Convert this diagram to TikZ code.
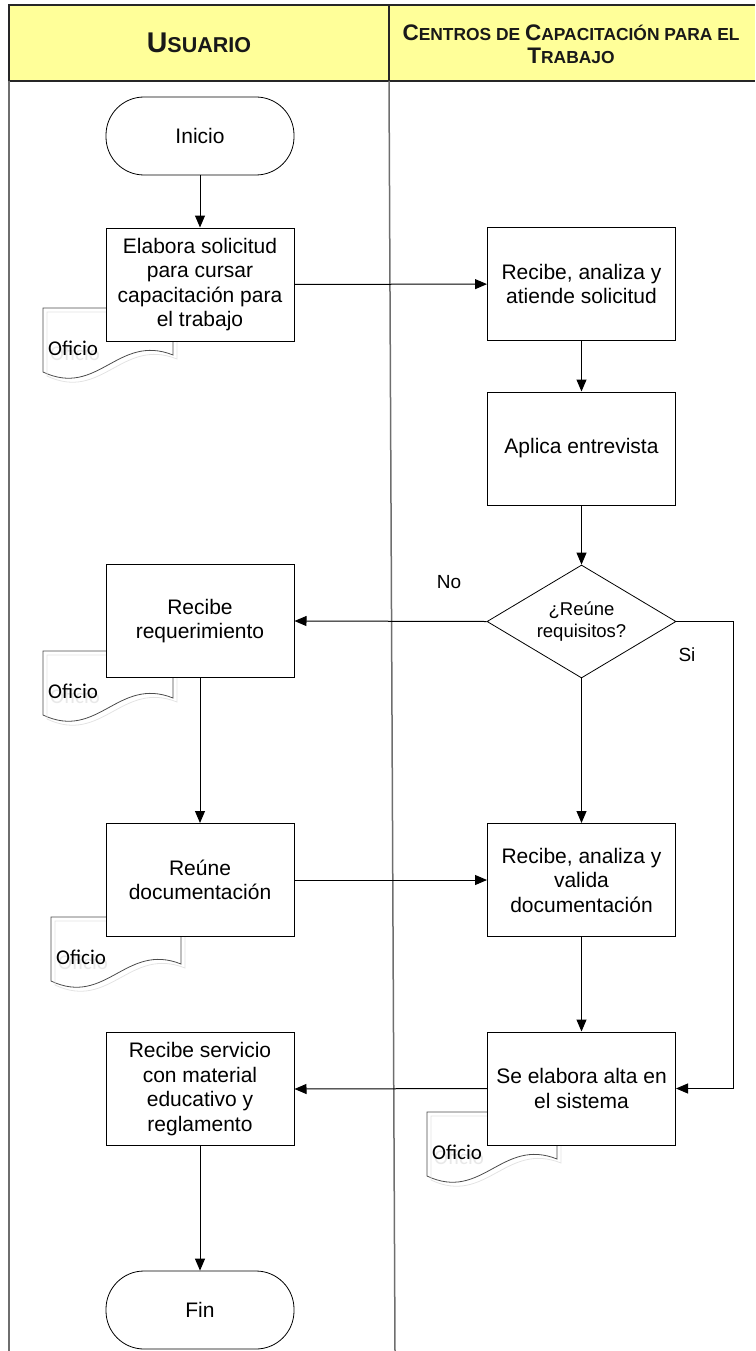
\documentclass[tikz,border=0pt]{standalone}
\usepackage{fontspec}
\setmainfont{Liberation Sans}
\newfontfamily\calib{Carlito}
\usetikzlibrary{shapes.geometric,arrows.meta}
\definecolor{hdr}{HTML}{FFFF99}
\definecolor{lane}{HTML}{6E6E6E}
\newcommand\BigL[1]{{\fontsize{22.5}{23}\selectfont #1}}
\newcommand\SmL[1]{{\fontsize{17.4}{23}\selectfont #1}}
\tikzset{
  box/.style={draw, line width=1pt, fill=white, minimum width=188pt, minimum height=113pt,
    inner sep=0pt, align=center, font=\fontsize{21}{24.5}\selectfont},
  term/.style={draw, line width=0.8pt, rounded corners=38pt, minimum width=188pt,
    minimum height=78pt, font=\fontsize{21}{24.5}\selectfont},
  dec/.style={diamond, draw, line width=0.8pt, fill=white, minimum width=189pt,
    minimum height=113pt, inner sep=0pt},
  dectext/.style={align=center, inner sep=0pt, font=\fontsize{18.5}{22}\selectfont},
  arr/.style={line width=1pt, -{Triangle[length=12pt,width=10pt]}},
  lbl/.style={font=\fontsize{19}{20}\selectfont, inner sep=0pt},
  oficio/.pic={
    \path[draw=gray!60!black, line width=0.8pt, fill=white]
      (0,0) -- (130,0) -- (130,47) .. controls (75,25) and (55,90) .. (0,64) -- cycle;
    \path[draw=gray!22, line width=0.8pt]
      (4,4) -- (134,4) -- (134,51) .. controls (79,29) and (59,94) .. (4,68) -- cycle;
    \node[anchor=west, text=gray!18, font=\calib\fontsize{21}{21}\selectfont, inner sep=0pt] (-s) at (7,45) {Oficio};
    \node[anchor=west, font=\calib\fontsize{21}{21}\selectfont, inner sep=0pt] (-t) at (5,40) {Oficio};
  }
}
\begin{document}
\begin{tikzpicture}[x=1pt,y=-1pt]
\useasboundingbox (0,0) rectangle (755,1351);
% header
\fill[hdr] (9,5) rectangle (755,81);
\draw[line width=1.5pt, black!85] (755,5) -- (9,5) -- (9,81) -- (755,81);
\draw[line width=1.5pt, black!85] (389,5) -- (389,81);
\draw[lane, line width=1.5pt] (9,81) -- (9,1351);
\draw[lane, line width=1.5pt] (389,81) -- (395,1351);
\node[font=\bfseries, text=black!90] (h1) at (199,43) {{\fontsize{28.5}{28}\selectfont U}{\fontsize{21.5}{28}\selectfont SUARIO}};
\node[font=\bfseries\fontsize{17.4}{23}\selectfont, text=black!90, align=center] (h2) at (571,44)
  {\BigL{C}\SmL{ENTROS DE }\BigL{C}\SmL{APACITACIÓN PARA EL}\\\BigL{T}\SmL{RABAJO}};
% documents
\pic (d1) at (43,308) {oficio};
\pic (d2) at (43,651) {oficio};
\pic (d3) at (51,917) {oficio};
\pic (d4) at (427,1112) {oficio};
% nodes
\node[term] (ini) at (200,136) {Inicio};
\node[box] (ela) at (200,284.5) {Elabora solicitud\\para cursar\\capacitación para\\el trabajo};
\node[box] (rec1) at (581.5,284) {Recibe, analiza y\\atiende solicitud};
\node[box] (apl) at (581.5,448.5) {Aplica entrevista};
\node[dec] (dia) at (581.5,621.5) {};
\node[dectext] (diat) at (dia.center) {¿Reúne\\requisitos?};
\node[box] (req) at (200,621) {Recibe\\requerimiento};
\node[box] (reu) at (200,880) {Reúne\\documentación};
\node[box] (val) at (581.5,880) {Recibe, analiza y\\valida\\documentación};
\node[box] (alta) at (581.5,1088.5) {Se elabora alta en\\el sistema};
\node[box] (serv) at (200,1089) {Recibe servicio\\con material\\educativo y\\reglamento};
\node[term] (fin) at (200,1310) {Fin};
\node[lbl] (no) at (449,582) {No};
\node[lbl] (si) at (687,655) {Si};
\coordinate (sic) at (733,621.5);
% connectors
\draw[arr] (ini) -- (ela);
\draw[arr] (ela) -- (rec1);
\draw[arr] (rec1) -- (apl);
\draw[arr] (apl) -- (dia);
\draw[arr] (dia.west) -- (req.east);
\draw[arr] (req) -- (reu);
\draw[arr] (reu) -- (val);
\draw[arr] (dia.south) -- (val.north);
\draw[arr] (val) -- (alta);
\draw[arr] (dia.east) -- (sic) |- (alta.east);
\draw[arr] (alta.west) -- (serv.east);
\draw[arr] (serv) -- (fin);
\end{tikzpicture}
\end{document}
